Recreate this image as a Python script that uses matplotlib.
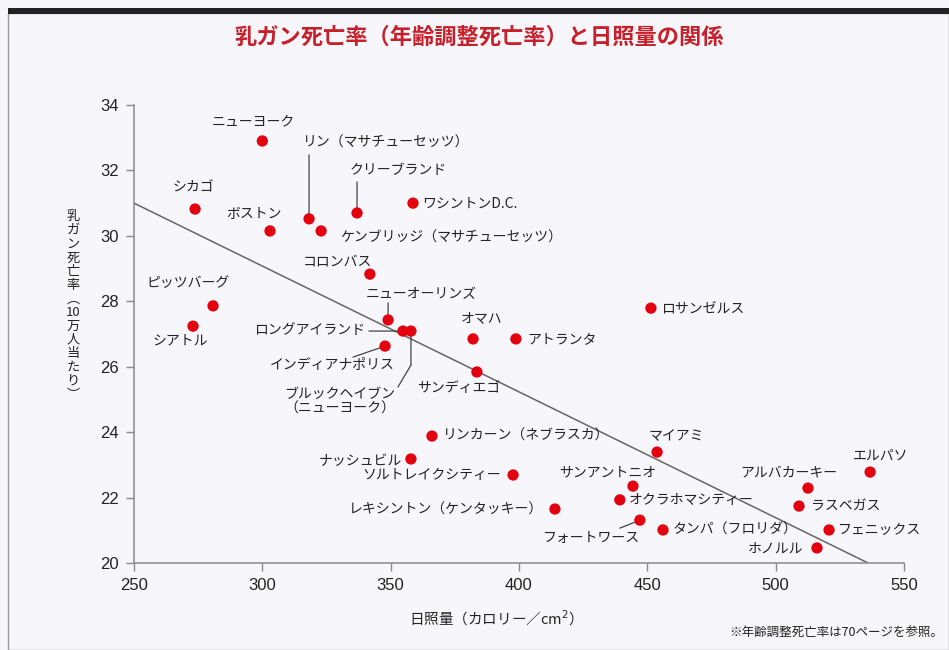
import matplotlib
matplotlib.use('Agg')
import matplotlib.pyplot as plt
import matplotlib.transforms as mtransforms
from matplotlib.patches import Rectangle

plt.rcParams['font.family'] = ['Noto Sans CJK JP', 'DejaVu Sans']

# data
cities = [
    'ニューヨーク', 'シカゴ', 'ボストン', 'リン（マサチューセッツ）', 'クリーブランド',
    'ワシントンD.C.', 'ケンブリッジ（マサチューセッツ）', 'コロンバス', 'ピッツバーグ',
    'シアトル', 'ニューオーリンズ', 'ロングアイランド', 'インディアナポリス',
    'ブルックヘイブン\n（ニューヨーク）', 'オマハ', 'アトランタ', 'サンディエゴ',
    'ロサンゼルス', 'リンカーン（ネブラスカ）', 'ナッシュビル', 'ソルトレイクシティー',
    'レキシントン（ケンタッキー）', 'マイアミ', 'サンアントニオ', 'オクラホマシティー',
    'フォートワース', 'タンパ（フロリダ）', 'アルバカーキー', 'ラスベガス', 'エルパソ',
    'フェニックス', 'ホノルル',
]
sunlight = [300.0, 273.8, 303.0, 318.2, 336.9, 358.7, 322.9, 341.9, 280.8, 273.0,
            349.0, 354.8, 347.8, 357.9, 382.1, 398.8, 383.6, 451.4, 366.1, 357.9,
            397.7, 414.0, 453.8, 444.4, 439.3, 447.1, 456.1, 512.6, 509.1, 536.8,
            520.8, 516.1]
mortality = [32.90, 30.82, 30.15, 30.52, 30.70, 31.00, 30.15, 28.83, 27.86, 27.24,
             27.43, 27.09, 26.63, 27.09, 26.85, 26.85, 25.84, 27.79, 23.88, 23.18,
             22.69, 21.65, 23.39, 22.35, 21.93, 21.31, 21.01, 22.29, 21.74, 22.78,
             21.01, 20.46]
trend_x = [250, 536]
trend_y = [31.0, 20.0]
x_ticks = [250, 300, 350, 400, 450, 500, 550]
y_ticks = [20, 22, 24, 26, 28, 30, 32, 34]

# label placement: pixel offset from the dot (y up), horizontal alignment
label_pos = [
    (-9, 20, 'center'), (-2, 22, 'center'), (-16, 17, 'center'), (-6, 76, 'left'),
    (-7, 43, 'left'), (9, 0, 'left'), (19, -7, 'left'), (2, 13, 'right'),
    (-25, 23, 'center'), (-13, -14, 'center'), (-22, 26, 'left'), (-38, 1, 'right'),
    (-53, -19, 'center'), (-71, -70, 'center'), (9, 21, 'center'), (11, 0, 'left'),
    (-18, -16, 'center'), (10, 0, 'left'), (11, 0, 'left'), (-9, -2, 'right'),
    (-12, 0, 'right'), (-12, -1, 'right'), (19, 16, 'center'), (-25, 14, 'center'),
    (9, 0, 'left'), (-48, -18, 'center'), (10, 0, 'left'), (-19, 15, 'center'),
    (12, 0, 'left'), (10, 16, 'center'), (9, 0, 'left'), (-14, -1, 'right'),
]
# leader lines, as pixel offsets from the dot
leaders = {
    3: [(0, 0), (0, 64)],
    4: [(0, 0), (0, 31)],
    10: [(0, 0), (0, 17)],
    11: [(0, 0), (-34, 0)],
    12: [(0, 0), (-32, -11)],
    13: [(0, 0), (0, -34), (-13, -56)],
    25: [(0, 0), (-20, -8)],
}

fig = plt.figure(figsize=(9.49, 6.5), dpi=100)
fig.patch.set_facecolor('#f7f6fa')
fig.patches.append(Rectangle((8 / 949, 0), 941 / 949, 1 - 13 / 650, transform=fig.transFigure,
                             fill=False, edgecolor='#9a9aa0', lw=1.0))
fig.patches.append(Rectangle((8 / 949, 1 - 14 / 650), 941 / 949, 6 / 650, transform=fig.transFigure,
                             facecolor='#222222', edgecolor='none'))

ax = fig.add_axes([134 / 949, 1 - 563 / 650, 770 / 949, 458 / 650])
ax.set_facecolor('none')

ax.plot(trend_x, trend_y, color='#666666', lw=1.1, zorder=2)
ax.scatter(sunlight, mortality, s=66, color='#e3000f', edgecolors='none', zorder=4)


def px(dx, dy):
    return ax.transData + mtransforms.Affine2D().translate(dx, dy)


for i, name in enumerate(cities):
    dx, dy, ha = label_pos[i]
    ax.annotate(name, (sunlight[i], mortality[i]), xytext=(dx, dy), textcoords='offset pixels',
                ha=ha, va='center', fontsize=10, color='#222222', linespacing=1.1,
                multialignment='center', zorder=5)

for i, pts in leaders.items():
    for (x0, y0), (x1, y1) in zip(pts[:-1], pts[1:]):
        ax.annotate('', xy=(sunlight[i], mortality[i]), xycoords=px(x1, y1),
                    xytext=(sunlight[i], mortality[i]), textcoords=px(x0, y0),
                    arrowprops=dict(arrowstyle='-', color='#444444', lw=0.9,
                                    shrinkA=0, shrinkB=0), zorder=3)

ax.set_xlim(250, 550)
ax.set_ylim(20, 34)
ax.set_xticks(x_ticks)
ax.set_yticks(y_ticks)
for s in ['top', 'right']:
    ax.spines[s].set_visible(False)
for s in ['left', 'bottom']:
    ax.spines[s].set_color('#8a8a8a')
    ax.spines[s].set_linewidth(1.1)
ax.tick_params(direction='out', length=6, width=1.0, color='#8a8a8a', labelsize=12,
               labelcolor='#222222', pad=5)
for lab in ax.get_xticklabels() + ax.get_yticklabels():
    lab.set_family(['Liberation Sans', 'DejaVu Sans'])

fig.text(479 / 949, 1 - 37 / 650, '乳ガン死亡率（年齢調整死亡率）と日照量の関係', ha='center', va='center',
         fontsize=16, fontweight='bold', color='#c8202a')

ylabel = '\n'.join(['乳', 'ガ', 'ン', '死', '亡', '率', '︵', '10', '万', '人', '当', 'た', 'り', '︶'])
fig.text(73 / 949, 1 - 306 / 650, ylabel, ha='center', va='center', fontsize=9.5,
         linespacing=1.07, color='#222222')

fig.text(492 / 949, 1 - 618 / 650, '日照量（カロリー／cm$^2$）', ha='center', va='center',
         fontsize=10.5, color='#222222')
fig.text(943 / 949, 1 - 633 / 650, '※年齢調整死亡率は70ページを参照。', ha='right', va='center',
         fontsize=9, color='#222222')

fig.savefig('out.png', dpi=100, facecolor=fig.get_facecolor())
